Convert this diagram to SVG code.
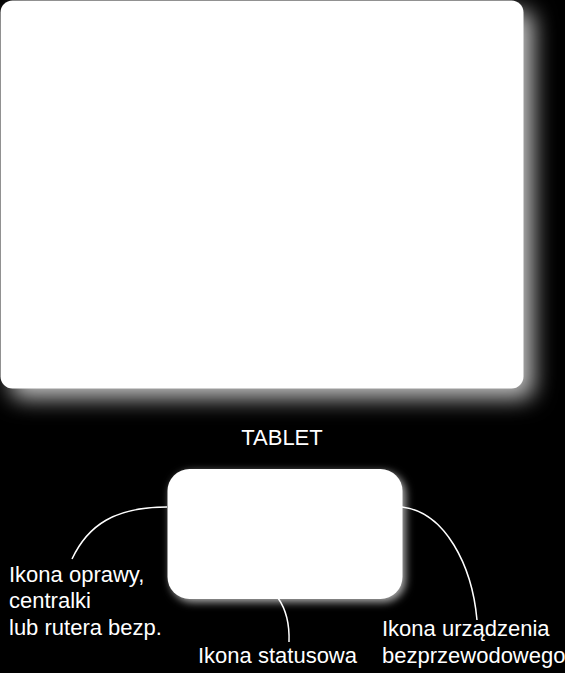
<svg xmlns="http://www.w3.org/2000/svg" width="565" height="673" viewBox="0 0 565 673">
<defs>
<filter id="bigShadow" x="-10%" y="-10%" width="130%" height="130%">
<feDropShadow dx="10" dy="10" stdDeviation="11" flood-color="#ffffff" flood-opacity="0.75"/>
</filter>
<filter id="smallShadow" x="-20%" y="-20%" width="140%" height="140%">
<feDropShadow dx="3" dy="3" stdDeviation="4" flood-color="#ffffff" flood-opacity="0.7"/>
</filter>
</defs>
<style>
.box { fill: #ffffff; }
.lbl { fill: #ffffff; font-family: "Liberation Sans", Arial, sans-serif; font-size: 22px; }
.conn { fill: none; stroke: #ffffff; stroke-width: 1.5; }
</style>
<rect x="0" y="0" width="565" height="673" fill="#000000"/>
<g id="screen">
<rect class="box" x="0.5" y="0.5" width="523" height="388" rx="12" filter="url(#bigShadow)"/>
</g>
<g id="tablet-label">
<text class="lbl" x="282" y="445" text-anchor="middle">TABLET</text>
</g>
<g id="tablet">
<rect class="box" x="167.5" y="469" width="235" height="130" rx="22" filter="url(#smallShadow)"/>
</g>
<g id="connectors">
<path class="conn" d="M167,507 C115,507 88,525 72,559"/>
<path class="conn" d="M278,598 Q290,615 289,642"/>
<path class="conn" d="M402,507 C445,512 472,565 477,620"/>
</g>
<g id="label-oprawy">
<text class="lbl" x="9" y="582">Ikona oprawy,</text>
<text class="lbl" x="9" y="608">centralki</text>
<text class="lbl" x="9" y="635">lub rutera bezp.</text>
</g>
<g id="label-status">
<text class="lbl" x="198" y="663">Ikona statusowa</text>
</g>
<g id="label-urzadzenia">
<text class="lbl" x="382" y="636">Ikona urządzenia</text>
<text class="lbl" x="382" y="663">bezprzewodowego</text>
</g>
</svg>
